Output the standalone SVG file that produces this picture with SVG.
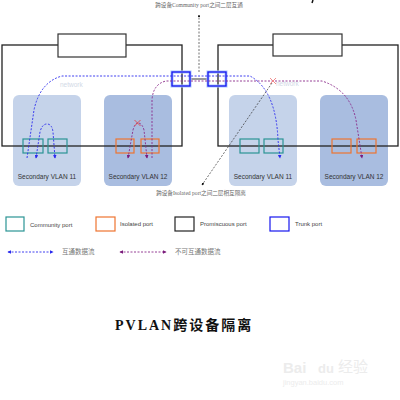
<svg xmlns="http://www.w3.org/2000/svg" width="400" height="400" viewBox="0 0 400 400">
<defs>
<style>
.sw{fill:none;stroke:#222;stroke-width:1.3}
.top{fill:#fff;stroke:#333;stroke-width:1.2}
.v11{fill:#c5d3ea}
.v12{fill:#a9bde0}
.cp{fill:none;stroke:#2a9494;stroke-width:1.2}
.ip{fill:none;stroke:#ee7430;stroke-width:1.2}
.tp{fill:none;stroke:#1616ee;stroke-width:1.3}
.halo{fill:none;stroke:#aac4ff;stroke-width:3}
.vl{font-family:"Liberation Sans",Arial,sans-serif;font-size:6.5px;fill:#333;text-anchor:middle}
.net{font-family:"Liberation Sans",Arial,sans-serif;font-size:6.5px;fill:#d2d9e6}
.bl{fill:none;stroke:#2a2aee;stroke-width:0.9;stroke-dasharray:2 1.5}
.pu{fill:none;stroke:#8a2a8a;stroke-width:0.9;stroke-dasharray:2 1.5}
.bk{fill:none;stroke:#333;stroke-width:0.7;stroke-dasharray:2 1.5}
.note{font-family:"Liberation Serif","Noto Sans CJK SC",serif;font-size:5.6px;fill:#666;text-anchor:middle}
.leg{font-family:"Liberation Sans",Arial,sans-serif;font-size:6px;fill:#444}
.legc{font-family:"Liberation Serif","Noto Sans CJK SC",serif;font-size:6.5px;fill:#777}
</style>
<marker id="ab" viewBox="0 0 6 6" refX="5" refY="3" markerWidth="4" markerHeight="4" orient="auto"><path d="M0,0 L6,3 L0,6 Z" fill="#2a2aee"/></marker>
<marker id="ap" viewBox="0 0 6 6" refX="5" refY="3" markerWidth="4" markerHeight="4" orient="auto"><path d="M0,0 L6,3 L0,6 Z" fill="#7a1a7a"/></marker>
<marker id="ak" viewBox="0 0 6 6" refX="5" refY="3" markerWidth="4" markerHeight="4" orient="auto"><path d="M0,0 L6,3 L0,6 Z" fill="#111"/></marker>
<marker id="abs" viewBox="0 0 6 6" refX="1" refY="3" markerWidth="4" markerHeight="4" orient="auto"><path d="M6,0 L0,3 L6,6 Z" fill="#2a2aee"/></marker>
<marker id="aps" viewBox="0 0 6 6" refX="1" refY="3" markerWidth="4" markerHeight="4" orient="auto"><path d="M6,0 L0,3 L6,6 Z" fill="#7a1a7a"/></marker>
</defs>
<rect width="400" height="400" fill="#fff"/>

<g id="vlans">
<rect class="v11" x="13" y="95" width="68" height="91" rx="6"/>
<rect class="v12" x="104" y="95" width="68" height="91" rx="6"/>
<rect class="v11" x="229" y="95" width="68" height="91" rx="6"/>
<rect class="v12" x="320" y="95" width="68" height="91" rx="6"/>
<text class="vl" x="47" y="179">Secondary VLAN 11</text>
<text class="vl" x="138" y="179">Secondary VLAN 12</text>
<text class="vl" x="263" y="179">Secondary VLAN 11</text>
<text class="vl" x="354" y="179">Secondary VLAN 12</text>
<text class="net" x="60" y="87">network</text>
<text class="net" x="276" y="86">network</text>
</g>

<g id="switch-left">
<rect class="sw" x="2" y="45" width="180" height="101"/>
<rect class="top" x="58" y="34" width="68" height="23"/>
</g>
<g id="switch-right">
<rect class="sw" x="218" y="45" width="180" height="101"/>
<rect class="top" x="273" y="34" width="69" height="22"/>
</g>

<g id="ports">
<rect class="cp" x="23" y="139" width="20" height="14"/>
<rect class="cp" x="48" y="139" width="19" height="14"/>
<rect class="ip" x="116" y="139" width="18" height="14"/>
<rect class="ip" x="141" y="139" width="18" height="14"/>
<rect class="cp" x="240" y="139" width="19" height="14"/>
<rect class="cp" x="264" y="139" width="19" height="14"/>
<rect class="ip" x="332" y="139" width="19" height="14"/>
<rect class="ip" x="357" y="139" width="19" height="14"/>
</g>

<g id="trunks">
<line x1="190" y1="79" x2="208" y2="79" stroke="#555" stroke-width="1.2"/>
<rect class="halo" x="172" y="72" width="18" height="14"/>
<rect class="tp" x="172" y="72" width="18" height="14"/>
<rect class="halo" x="208" y="72" width="18" height="14"/>
<rect class="tp" x="208" y="72" width="18" height="14"/>
</g>

<g id="connectors">
<path class="bl" d="M27,158 L34,110 Q40,82 62,76 L250,76 Q276,90 278,140 L280,158" marker-end="url(#ab)"/>
<path class="bl" d="M36,158 L40,132 Q42,124 47,124 Q52,124 53,132 L55,158" marker-start="url(#abs)" marker-end="url(#ab)"/>
<path class="pu" d="M152,158 L152,100 Q153,84 166,81 L322,81 Q350,90 356,120 L362,158" marker-end="url(#ap)"/>
<path class="pu" d="M128,158 L133,130 Q135,123 138,123 Q142,123 144,130 L147,158" marker-start="url(#aps)" marker-end="url(#ap)"/>
<path d="M134.5,120 L140.5,126 M140.5,120 L134.5,126" stroke="#e04848" stroke-width="0.9"/>
<path d="M270,78 L276,84 M276,78 L270,84" stroke="#f08080" stroke-width="0.9"/>
<path class="bk" d="M199,72 L199,15" marker-end="url(#ak)"/>
<path class="bk" d="M272,83 L202,185" marker-end="url(#ak)"/>
<path d="M313,0 L312,3" stroke="#111" stroke-width="1.5"/>
</g>

<g id="notes">
<text class="note" x="199" y="7">跨设备Community port之间二层互通</text>
<text class="note" x="201" y="195">跨设备Isolated port之间二层相互隔离</text>
</g>

<g id="legend">
<rect class="cp" x="6" y="217" width="18" height="14"/>
<text class="leg" x="30" y="227">Community port</text>
<rect class="ip" x="96" y="217" width="19" height="14"/>
<text class="leg" x="120" y="226">Isolated port</text>
<rect x="175" y="217" width="19" height="14" fill="none" stroke="#222" stroke-width="1.2"/>
<text class="leg" x="200" y="226">Promiscuous port</text>
<rect x="270" y="217" width="19" height="14" fill="none" stroke="#1616ee" stroke-width="1.2"/>
<text class="leg" x="295" y="226">Trunk port</text>
<path class="bl" d="M8,252 L53,252" marker-start="url(#abs)" marker-end="url(#ab)"/>
<text class="legc" x="62" y="254">互通数据流</text>
<path class="pu" d="M120,252 L166,252" marker-start="url(#aps)" marker-end="url(#ap)"/>
<text class="legc" x="175" y="254">不可互通数据流</text>
</g>

<text x="115" y="330" font-family="'Liberation Serif','Noto Sans CJK SC',serif" font-size="14" font-weight="bold" letter-spacing="2" fill="#111">PVLAN跨设备隔离</text>

<g id="watermark" font-family="'Liberation Sans',Arial,sans-serif" fill="#ececec">
<text x="283" y="373" font-size="15" font-weight="bold">Bai</text>
<text x="318" y="373" font-size="13" font-weight="bold">du</text>
<text x="338" y="372" font-size="15" font-family="'Noto Sans CJK SC',sans-serif">经验</text>
<text x="283" y="385" font-size="7.5">jingyan.baidu.com</text>
</g>
</svg>
